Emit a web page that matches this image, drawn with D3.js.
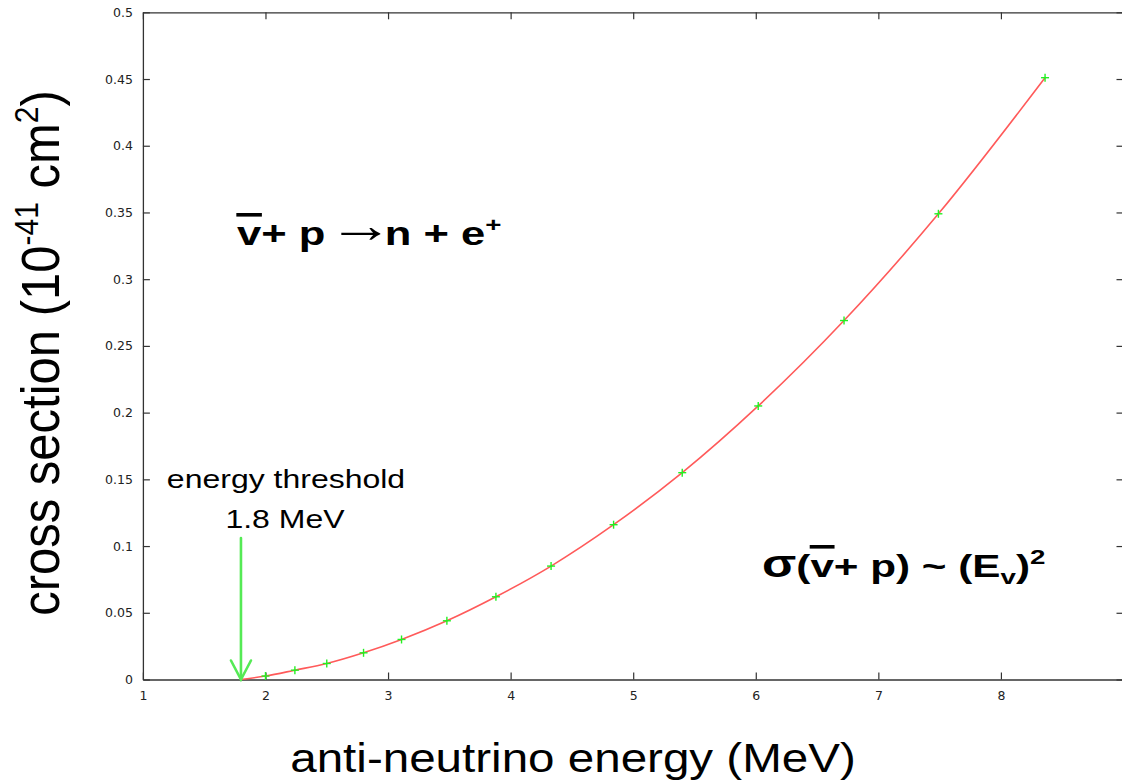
<!DOCTYPE html>
<html>
<head>
<meta charset="utf-8">
<script src="https://cdn.jsdelivr.net/npm/d3@7"></script>
<style>
  html, body { margin: 0; padding: 0; background: #fff; }
  svg { display: block; }
</style>
</head>
<body>
<svg id="chart" width="1122" height="782"></svg>
<script>
// Inverse beta decay cross section vs anti-neutrino energy
const energy = [2.0, 2.24, 2.5, 2.8, 3.11, 3.48, 3.88, 4.33, 4.84, 5.4, 6.02, 6.72, 7.49, 8.36];
const crossSection = [0.0026, 0.007, 0.012, 0.020, 0.030, 0.044, 0.062, 0.085, 0.116, 0.155, 0.205, 0.269, 0.349, 0.451];
const thresholdEnergy = 1.8;

const xTicks = [1, 2, 3, 4, 5, 6, 7, 8];
const xTickLabels = ["1", "2", "3", "4", "5", "6", "7", "8"];
const yTicks = [0, 0.05, 0.1, 0.15, 0.2, 0.25, 0.3, 0.35, 0.4, 0.45, 0.5];
const yTickLabels = ["0", "0.05", "0.1", "0.15", "0.2", "0.25", "0.3", "0.35", "0.4", "0.45", "0.5"];

const svg = d3.select("#chart");
const W = 1122, H = 782;
svg.append("rect").attr("width", W).attr("height", H).attr("fill", "#fff");

const x = d3.scaleLinear().domain([1, 9]).range([142.9, 1123.5]);
const y = d3.scaleLinear().domain([0, 0.5]).range([679.5, 12.3]);

const axisColor = "#333";
const tickFont = "'DejaVu Sans', sans-serif";

function styleAxis(g) {
  g.select(".domain").attr("stroke", axisColor).attr("stroke-width", 1.3);
  g.selectAll(".tick line").attr("stroke", axisColor).attr("stroke-width", 1.2);
  g.selectAll(".tick text").attr("fill", "#222").attr("font-family", tickFont).attr("font-size", 12.5);
}

// bottom axis with labels
svg.append("g")
  .attr("transform", `translate(0,${y(0)})`)
  .call(d3.axisBottom(x).tickValues(xTicks).tickFormat((d, i) => xTickLabels[i])
    .tickSizeInner(-7).tickSizeOuter(0).tickPadding(12))
  .call(styleAxis);

// left axis with labels
svg.append("g")
  .attr("transform", `translate(${x(1)},0)`)
  .call(d3.axisLeft(y).tickValues(yTicks).tickFormat((d, i) => yTickLabels[i])
    .tickSizeInner(-7).tickSizeOuter(0).tickPadding(10))
  .call(styleAxis);

// mirrored top and right axes (ticks only)
svg.append("g")
  .attr("transform", `translate(0,${y(0.5)})`)
  .call(d3.axisTop(x).tickValues(xTicks).tickFormat("").tickSizeInner(-7).tickSizeOuter(0))
  .call(styleAxis);
svg.append("g")
  .attr("transform", `translate(${x(9)},0)`)
  .call(d3.axisRight(y).tickValues(yTicks).tickFormat("").tickSizeInner(-7).tickSizeOuter(0))
  .call(styleAxis);

// fitted curve from threshold through the computed points
const curvePts = [[thresholdEnergy, 0]].concat(energy.map((e, i) => [e, crossSection[i]]));
const line = d3.line().x(d => x(d[0])).y(d => y(d[1])).curve(d3.curveMonotoneX);
svg.append("path")
  .datum(curvePts)
  .attr("d", line)
  .attr("fill", "none")
  .attr("stroke", "#ff5a5a")
  .attr("stroke-width", 1.6);

// point markers (+)
const m = 4;
const marks = svg.append("g").attr("stroke", "#22f022").attr("stroke-width", 1.4);
energy.forEach((e, i) => {
  const cx = x(e), cy = y(crossSection[i]);
  marks.append("line").attr("x1", cx - m).attr("x2", cx + m).attr("y1", cy).attr("y2", cy);
  marks.append("line").attr("x1", cx).attr("x2", cx).attr("y1", cy - m).attr("y2", cy + m);
});

// threshold arrow
const ax = x(thresholdEnergy);
const arrowTop = 0.106;
const arrow = svg.append("g").attr("stroke", "#55ea55").attr("stroke-width", 2.6)
  .attr("fill", "none").attr("stroke-linecap", "round");
arrow.append("line").attr("x1", ax).attr("x2", ax).attr("y1", y(arrowTop)).attr("y2", y(0));
arrow.append("polyline")
  .attr("points", `${ax - 10},${y(0) - 19} ${ax},${y(0)} ${ax + 10},${y(0) - 19}`);

// annotation text (slide text is horizontally stretched)
const sx = 1.32;
const sans = "'Liberation Sans', Arial, sans-serif";

function stretchedText(cx, cy, str, size, stretch) {
  return svg.append("text")
    .attr("transform", `translate(${cx},${cy}) scale(${stretch},1)`)
    .attr("text-anchor", "middle")
    .attr("font-family", sans).attr("font-size", size).attr("fill", "#000")
    .text(str);
}
stretchedText(286, 488, "energy threshold", 25, 1.28);
stretchedText(285, 528, "1.8 MeV", 25, 1.28);

// bar drawn over a "v" of a formula (anti-neutrino)
function overlineV(textSel, vIndex) {
  const node = textSel.node();
  const ext = node.getExtentOfChar(vIndex);
  const g = d3.select(node.parentNode);
  g.append("rect")
    .attr("x", ext.x - 0.5).attr("width", ext.width + 1)
    .attr("y", -32).attr("height", 3.6)
    .attr("fill", "#000");
}

// reaction equation
const eq1 = svg.append("g").attr("transform", `translate(237,245) scale(${sx},1)`);
const t1 = eq1.append("text").attr("font-family", sans).attr("font-weight", "bold")
  .attr("font-size", 33).attr("fill", "#000");
t1.append("tspan").text("v+ p");
t1.append("tspan").attr("font-weight", "normal").attr("font-size", 50).attr("dy", -3).attr("dx", 2).text("\u2192");
t1.append("tspan").attr("dy", 3).attr("dx", -7).text("n + e");
t1.append("tspan").attr("font-size", 21).attr("dy", -13).text("+");
overlineV(t1, 0);

// proportionality statement
const eq2 = svg.append("g").attr("transform", `translate(762,577) scale(${sx},1)`);
const t2 = eq2.append("text").attr("font-family", sans).attr("font-weight", "bold")
  .attr("font-size", 32).attr("fill", "#000");
t2.append("tspan").attr("font-size", 38).text("\u03c3");
t2.append("tspan").text("(v+ p) ~ (E");
t2.append("tspan").attr("font-size", 21).attr("dy", 7).text("v");
t2.append("tspan").attr("dy", -7).text(")");
t2.append("tspan").attr("font-size", 21).attr("dy", -13).text("2");
overlineV(t2, 2);

// axis titles
svg.append("text")
  .attr("transform", `translate(573,772) scale(1.16,1)`)
  .attr("text-anchor", "middle")
  .attr("font-family", sans).attr("font-size", 41).attr("fill", "#000")
  .text("anti-neutrino energy (MeV)");

const yl = svg.append("text")
  .attr("transform", `translate(59,353) scale(1.1,1) rotate(-90)`)
  .attr("text-anchor", "middle")
  .attr("font-family", sans).attr("font-size", 49).attr("fill", "#000");
yl.append("tspan").text("cross section (10");
yl.append("tspan").attr("font-size", 30).attr("dy", -19).text("-41");
yl.append("tspan").attr("dy", 19).text(" cm");
yl.append("tspan").attr("font-size", 30).attr("dy", -19).text("2");
yl.append("tspan").attr("dy", 19).text(")");
</script>
</body>
</html>
